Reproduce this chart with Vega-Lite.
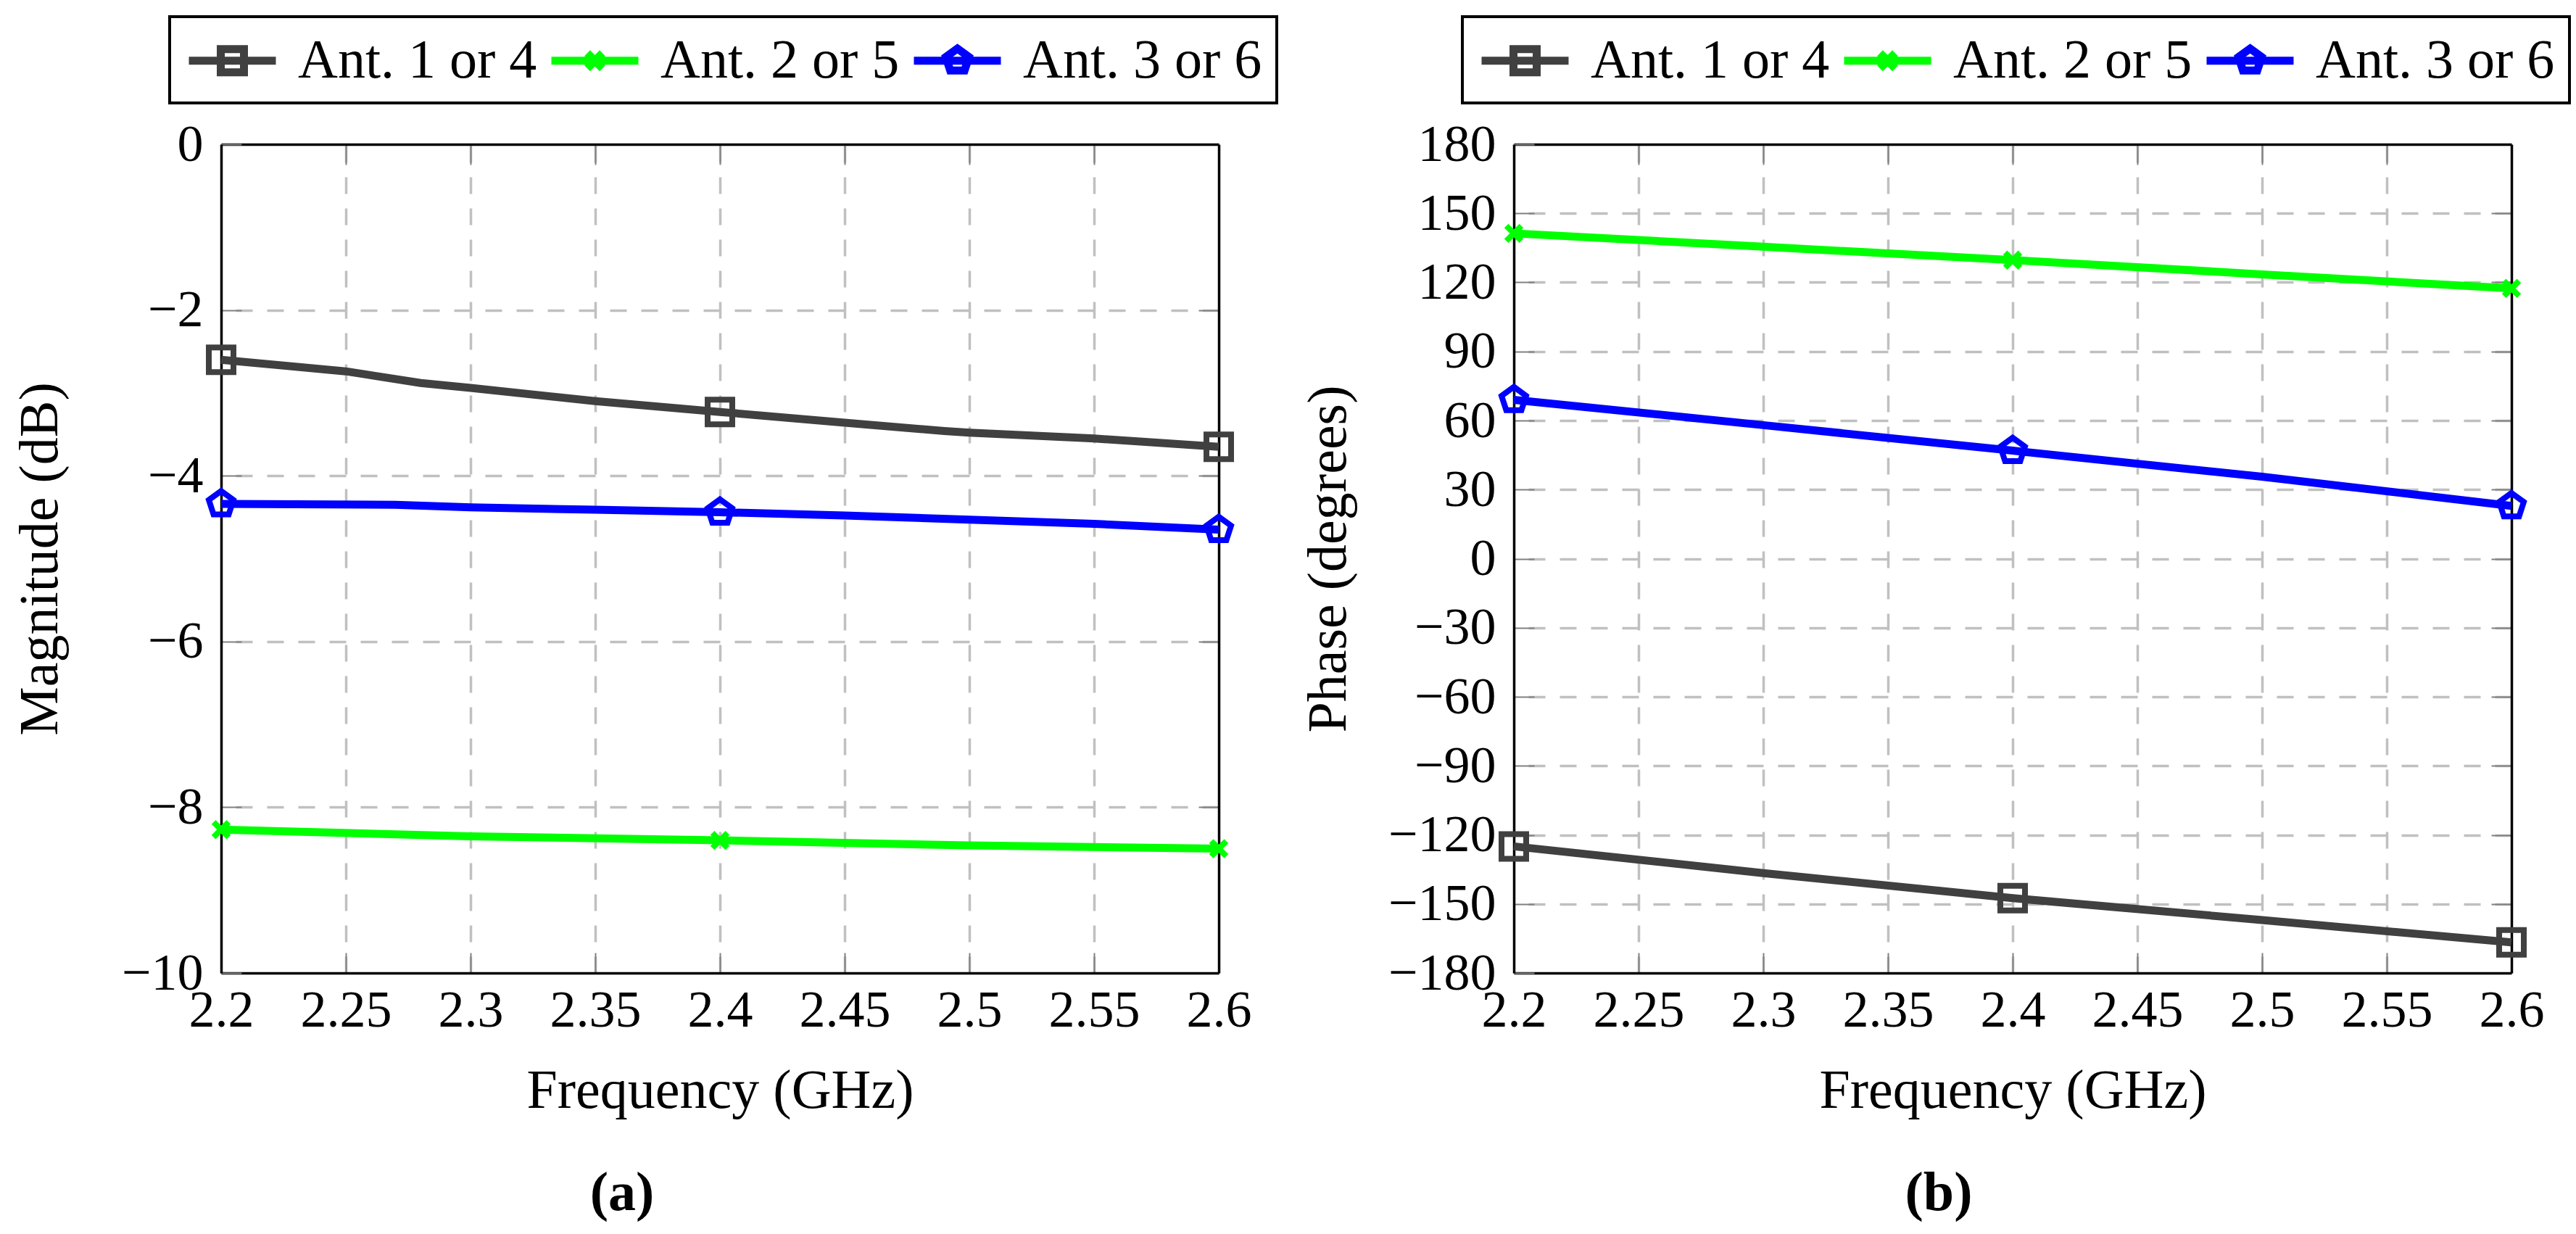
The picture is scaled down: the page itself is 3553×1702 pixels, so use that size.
{
  "$schema": "https://vega.github.io/schema/vega-lite/v6.json",
  "background": "white",
  "padding": {"left": 17, "top": 21, "right": 10, "bottom": 10},
  "datasets": {
    "mag": [
      {"f": 2.2, "ant": "Ant. 1 or 4", "v": -2.60},
      {"f": 2.25, "ant": "Ant. 1 or 4", "v": -2.74},
      {"f": 2.28, "ant": "Ant. 1 or 4", "v": -2.88},
      {"f": 2.3, "ant": "Ant. 1 or 4", "v": -2.94},
      {"f": 2.35, "ant": "Ant. 1 or 4", "v": -3.10},
      {"f": 2.4, "ant": "Ant. 1 or 4", "v": -3.23},
      {"f": 2.45, "ant": "Ant. 1 or 4", "v": -3.36},
      {"f": 2.49, "ant": "Ant. 1 or 4", "v": -3.46},
      {"f": 2.5, "ant": "Ant. 1 or 4", "v": -3.48},
      {"f": 2.55, "ant": "Ant. 1 or 4", "v": -3.55},
      {"f": 2.6, "ant": "Ant. 1 or 4", "v": -3.65},
      {"f": 2.2, "ant": "Ant. 2 or 5", "v": -8.27},
      {"f": 2.3, "ant": "Ant. 2 or 5", "v": -8.35},
      {"f": 2.4, "ant": "Ant. 2 or 5", "v": -8.40},
      {"f": 2.5, "ant": "Ant. 2 or 5", "v": -8.46},
      {"f": 2.6, "ant": "Ant. 2 or 5", "v": -8.50},
      {"f": 2.2, "ant": "Ant. 3 or 6", "v": -4.34},
      {"f": 2.27, "ant": "Ant. 3 or 6", "v": -4.35},
      {"f": 2.3, "ant": "Ant. 3 or 6", "v": -4.38},
      {"f": 2.35, "ant": "Ant. 3 or 6", "v": -4.41},
      {"f": 2.4, "ant": "Ant. 3 or 6", "v": -4.44},
      {"f": 2.45, "ant": "Ant. 3 or 6", "v": -4.48},
      {"f": 2.5, "ant": "Ant. 3 or 6", "v": -4.53},
      {"f": 2.55, "ant": "Ant. 3 or 6", "v": -4.58},
      {"f": 2.6, "ant": "Ant. 3 or 6", "v": -4.65}
    ],
    "phase": [
      {"f": 2.2, "ant": "Ant. 1 or 4", "v": -125},
      {"f": 2.3, "ant": "Ant. 1 or 4", "v": -136.6},
      {"f": 2.4, "ant": "Ant. 1 or 4", "v": -147.5},
      {"f": 2.5, "ant": "Ant. 1 or 4", "v": -157},
      {"f": 2.6, "ant": "Ant. 1 or 4", "v": -166.7},
      {"f": 2.2, "ant": "Ant. 2 or 5", "v": 141.3},
      {"f": 2.3, "ant": "Ant. 2 or 5", "v": 135.5},
      {"f": 2.4, "ant": "Ant. 2 or 5", "v": 129.7},
      {"f": 2.5, "ant": "Ant. 2 or 5", "v": 123.5},
      {"f": 2.6, "ant": "Ant. 2 or 5", "v": 117.4},
      {"f": 2.2, "ant": "Ant. 3 or 6", "v": 69},
      {"f": 2.3, "ant": "Ant. 3 or 6", "v": 58},
      {"f": 2.4, "ant": "Ant. 3 or 6", "v": 46.9},
      {"f": 2.5, "ant": "Ant. 3 or 6", "v": 35.6},
      {"f": 2.6, "ant": "Ant. 3 or 6", "v": 22.9}
    ]
  },
  "config": {
    "font": "Liberation Serif",
    "view": {"stroke": null},
    "axis": {
      "labelFont": "Liberation Serif",
      "labelFontSize": 72,
      "labelColor": "black",
      "titleFont": "Liberation Serif",
      "titleFontSize": 76,
      "titleFontWeight": "normal",
      "titleColor": "black",
      "domainColor": "black",
      "domainWidth": 3.5,
      "tickColor": "#808080",
      "tickWidth": 2,
      "tickSize": -28,
      "gridColor": "#c0c0c0",
      "gridDash": [23, 20],
      "gridWidth": 3.5,
      "gridOpacity": 1,
      "labelFlush": false,
      "labelOverlap": false
    },
    "legend": {
      "labelFont": "Liberation Serif",
      "labelFontSize": 76,
      "labelColor": "black",
      "labelLimit": 0,
      "strokeColor": "black",
      "strokeWidth": 4,
      "fillColor": "white"
    },
    "title": {"font": "Liberation Serif", "fontSize": 76, "color": "black"}
  },
  "resolve": {"scale": {"color": "independent"}, "legend": {"color": "independent"}},
  "spacing": 31,
  "hconcat": [
    {
      "width": 1376,
      "height": 1143,
      "data": {"name": "mag"},
      "title": {"text": "(a)", "orient": "bottom", "anchor": "middle", "frame": "group", "dx": -135, "fontWeight": "bold", "offset": 67},
      "resolve": {"axis": {"x": "independent", "y": "independent"}},
      "layer": [
        {
          "mark": {"type": "line", "strokeWidth": 11},
          "encoding": {
            "x": {"field": "f", "type": "quantitative", "scale": {"domain": [2.2, 2.6], "nice": false},
              "axis": {"orient": "bottom", "title": "Frequency (GHz)", "values": [2.2, 2.25, 2.3, 2.35, 2.4, 2.45, 2.5, 2.55, 2.6], "format": "~g", "grid": false, "labelPadding": 44, "titlePadding": 38}},
            "y": {"field": "v", "type": "quantitative", "scale": {"domain": [-10, 0], "nice": false},
              "axis": {"orient": "left", "title": "Magnitude (dB)", "values": [-10, -8, -6, -4, -2, 0], "grid": false, "labelPadding": 53, "titlePadding": 73}},
            "color": {"field": "ant", "type": "nominal",
              "scale": {"domain": ["Ant. 1 or 4", "Ant. 2 or 5", "Ant. 3 or 6"], "range": ["#404040", "#00ff00", "#0000ff"]},
              "legend": {
                "orient": "none", "legendX": -71, "legendY": -176, "direction": "horizontal", "title": null,
                "padding": 20, "symbolSize": 4900, "symbolOffset": 26, "labelOffset": 50, "columnPadding": -3,
                "symbolStrokeWidth": 11,
                "encode": {"symbols": {"update": {
                  "fill": {"value": "transparent"},
                  "size": {"value": 4900},
                  "strokeWidth": {"value": 11},
                  "shape": {"signal": "datum.value === 'Ant. 1 or 4' ? 'M-1.714,0H1.714M-0.457,-0.457H0.457V0.457H-0.457Z' : datum.value === 'Ant. 2 or 5' ? 'M-1.714,0H1.714M-0.3,-0.3L0.3,0.3M-0.3,0.3L0.3,-0.3' : 'M-1.714,0H1.714M0,-0.48L0.457,-0.148L0.282,0.388L-0.282,0.388L-0.457,-0.148Z'"}
                }}}
              }}
          }
        },
        {
          "transform": [{"filter": {"and": [{"field": "ant", "equal": "Ant. 1 or 4"}, {"field": "f", "oneOf": [2.2, 2.4, 2.6]}]}}],
          "mark": {"type": "point", "shape": "M-1,-1H1V1H-1Z", "color": "#404040", "filled": false, "strokeWidth": 8, "size": 1156, "opacity": 1},
          "encoding": {
            "x": {"field": "f", "type": "quantitative",
              "axis": {"orient": "top", "title": null, "labels": false, "values": [2.25, 2.3, 2.35, 2.4, 2.45, 2.5, 2.55], "grid": true}},
            "y": {"field": "v", "type": "quantitative",
              "axis": {"orient": "right", "title": null, "labels": false, "values": [-8, -6, -4, -2], "grid": true}}
          }
        },
        {
          "transform": [{"filter": {"and": [{"field": "ant", "equal": "Ant. 2 or 5"}, {"field": "f", "oneOf": [2.2, 2.4, 2.6]}]}}],
          "mark": {"type": "point", "shape": "M-0.65,-0.65L0.65,0.65M-0.65,0.65L0.65,-0.65", "color": "#00ff00", "filled": false, "strokeWidth": 8, "size": 1024, "opacity": 1},
          "encoding": {
            "x": {"field": "f", "type": "quantitative", "axis": null},
            "y": {"field": "v", "type": "quantitative", "axis": null}
          }
        },
        {
          "transform": [{"filter": {"and": [{"field": "ant", "equal": "Ant. 3 or 6"}, {"field": "f", "oneOf": [2.2, 2.4, 2.6]}]}}],
          "mark": {"type": "point", "shape": "M0,-1.05L0.999,-0.324L0.617,0.849L-0.617,0.849L-0.999,-0.324Z", "color": "#0000ff", "filled": false, "strokeWidth": 8, "size": 1156, "opacity": 1},
          "encoding": {
            "x": {"field": "f", "type": "quantitative", "axis": null},
            "y": {"field": "v", "type": "quantitative", "axis": null}
          }
        }
      ]
    },
    {
      "width": 1376,
      "height": 1143,
      "data": {"name": "phase"},
      "title": {"text": "(b)", "orient": "bottom", "anchor": "middle", "frame": "group", "dx": -102, "fontWeight": "bold", "offset": 67},
      "resolve": {"axis": {"x": "independent", "y": "independent"}},
      "layer": [
        {
          "mark": {"type": "line", "strokeWidth": 11},
          "encoding": {
            "x": {"field": "f", "type": "quantitative", "scale": {"domain": [2.2, 2.6], "nice": false},
              "axis": {"orient": "bottom", "title": "Frequency (GHz)", "values": [2.2, 2.25, 2.3, 2.35, 2.4, 2.45, 2.5, 2.55, 2.6], "format": "~g", "grid": false, "labelPadding": 44, "titlePadding": 38}},
            "y": {"field": "v", "type": "quantitative", "scale": {"domain": [-180, 180], "nice": false},
              "axis": {"orient": "left", "title": "Phase (degrees)", "values": [-180, -150, -120, -90, -60, -30, 0, 30, 60, 90, 120, 150, 180], "grid": false, "labelPadding": 53, "titlePadding": 43}},
            "color": {"field": "ant", "type": "nominal",
              "scale": {"domain": ["Ant. 1 or 4", "Ant. 2 or 5", "Ant. 3 or 6"], "range": ["#404040", "#00ff00", "#0000ff"]},
              "legend": {
                "orient": "none", "legendX": -71, "legendY": -176, "direction": "horizontal", "title": null,
                "padding": 20, "symbolSize": 4900, "symbolOffset": 26, "labelOffset": 50, "columnPadding": -3,
                "symbolStrokeWidth": 11,
                "encode": {"symbols": {"update": {
                  "fill": {"value": "transparent"},
                  "size": {"value": 4900},
                  "strokeWidth": {"value": 11},
                  "shape": {"signal": "datum.value === 'Ant. 1 or 4' ? 'M-1.714,0H1.714M-0.457,-0.457H0.457V0.457H-0.457Z' : datum.value === 'Ant. 2 or 5' ? 'M-1.714,0H1.714M-0.3,-0.3L0.3,0.3M-0.3,0.3L0.3,-0.3' : 'M-1.714,0H1.714M0,-0.48L0.457,-0.148L0.282,0.388L-0.282,0.388L-0.457,-0.148Z'"}
                }}}
              }}
          }
        },
        {
          "transform": [{"filter": {"and": [{"field": "ant", "equal": "Ant. 1 or 4"}, {"field": "f", "oneOf": [2.2, 2.4, 2.6]}]}}],
          "mark": {"type": "point", "shape": "M-1,-1H1V1H-1Z", "color": "#404040", "filled": false, "strokeWidth": 8, "size": 1156, "opacity": 1},
          "encoding": {
            "x": {"field": "f", "type": "quantitative",
              "axis": {"orient": "top", "title": null, "labels": false, "values": [2.25, 2.3, 2.35, 2.4, 2.45, 2.5, 2.55], "grid": true}},
            "y": {"field": "v", "type": "quantitative",
              "axis": {"orient": "right", "title": null, "labels": false, "values": [-150, -120, -90, -60, -30, 0, 30, 60, 90, 120, 150], "grid": true}}
          }
        },
        {
          "transform": [{"filter": {"and": [{"field": "ant", "equal": "Ant. 2 or 5"}, {"field": "f", "oneOf": [2.2, 2.4, 2.6]}]}}],
          "mark": {"type": "point", "shape": "M-0.65,-0.65L0.65,0.65M-0.65,0.65L0.65,-0.65", "color": "#00ff00", "filled": false, "strokeWidth": 8, "size": 1024, "opacity": 1},
          "encoding": {
            "x": {"field": "f", "type": "quantitative", "axis": null},
            "y": {"field": "v", "type": "quantitative", "axis": null}
          }
        },
        {
          "transform": [{"filter": {"and": [{"field": "ant", "equal": "Ant. 3 or 6"}, {"field": "f", "oneOf": [2.2, 2.4, 2.6]}]}}],
          "mark": {"type": "point", "shape": "M0,-1.05L0.999,-0.324L0.617,0.849L-0.617,0.849L-0.999,-0.324Z", "color": "#0000ff", "filled": false, "strokeWidth": 8, "size": 1156, "opacity": 1},
          "encoding": {
            "x": {"field": "f", "type": "quantitative", "axis": null},
            "y": {"field": "v", "type": "quantitative", "axis": null}
          }
        }
      ]
    }
  ]
}
